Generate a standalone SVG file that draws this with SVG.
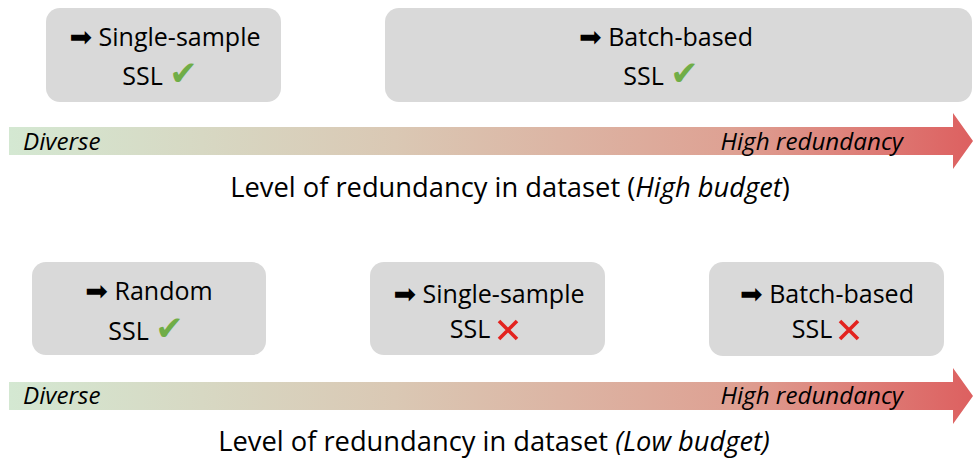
<svg xmlns="http://www.w3.org/2000/svg" width="973" height="461" viewBox="0 0 973 461">
<defs>
<linearGradient id="g" x1="9" y1="0" x2="973" y2="0" gradientUnits="userSpaceOnUse">
<stop offset="0" stop-color="#d4e8d2"/>
<stop offset="0.4" stop-color="#dac8b4"/>
<stop offset="0.75" stop-color="#dea193"/>
<stop offset="1" stop-color="#dd6060"/>
</linearGradient>
<path id="x" d="M0 0 L18 18 M18 0 L0 18" stroke="#e3231f" stroke-width="3.6" stroke-linecap="butt" fill="none"/>
<style>
.box{fill:#d9d9d9}
.t{font-family:"Open Sans","Noto Sans","Liberation Sans",sans-serif;font-size:25px;fill:#000;text-anchor:middle}
.i{font-family:"Open Sans","Noto Sans","Liberation Sans",sans-serif;font-size:24.2px;font-style:italic;fill:#000}
.cap{font-family:"Open Sans","Noto Sans","Liberation Sans",sans-serif;font-size:27.3px;fill:#000;text-anchor:middle}
.ok{fill:#70ad47;font-family:"DejaVu Sans",sans-serif;font-size:34px}
.ar{font-family:"DejaVu Sans",sans-serif;font-size:27px}
</style>
</defs>
<g id="connectors">
<path d="M9 127 H953 V113 L973 141 L953 169 V155 H9 Z" fill="url(#g)"/>
<path d="M9 382 H953 V368 L973 396 L953 424 V410 H9 Z" fill="url(#g)"/>
</g>
<g id="axis-high">
<text class="i" x="23" y="150">Diverse</text>
<text class="i" x="903" y="150" text-anchor="end">High redundancy</text>
<text class="cap" x="510" y="197">Level of redundancy in dataset (<tspan font-style="italic">High budget</tspan>)</text>
</g>
<g id="axis-low">
<text class="i" x="23" y="404">Diverse</text>
<text class="i" x="903" y="404" text-anchor="end">High redundancy</text>
<text class="cap" x="494" y="451">Level of redundancy in dataset <tspan font-style="italic">(Low budget)</tspan></text>
</g>
<g id="n1">
<rect class="box" x="46" y="8" width="235" height="94" rx="14"/>
<text class="t" x="165" y="46"><tspan class="ar">➡</tspan> Single-sample</text>
<text class="t" x="160" y="85">SSL <tspan class="ok">✔</tspan></text>
</g>
<g id="n2">
<rect class="box" x="385" y="8" width="587" height="94" rx="14"/>
<text class="t" x="666" y="46"><tspan class="ar">➡</tspan> Batch-based</text>
<text class="t" x="661" y="85">SSL <tspan class="ok">✔</tspan></text>
</g>
<g id="n3">
<rect class="box" x="32" y="262" width="234" height="93" rx="14"/>
<text class="t" x="149" y="300"><tspan class="ar">➡</tspan> Random</text>
<text class="t" x="146" y="340">SSL <tspan class="ok">✔</tspan></text>
</g>
<g id="n4">
<rect class="box" x="370" y="262" width="235" height="93" rx="14"/>
<text class="t" x="489" y="303"><tspan class="ar">➡</tspan> Single-sample</text>
<text class="t" x="470" y="338">SSL</text>
<use href="#x" x="499" y="321"/>
</g>
<g id="n5">
<rect class="box" x="709" y="262" width="235" height="94" rx="14"/>
<text class="t" x="827" y="303"><tspan class="ar">➡</tspan> Batch-based</text>
<text class="t" x="812" y="338">SSL</text>
<use href="#x" x="840" y="321"/>
</g>
</svg>
